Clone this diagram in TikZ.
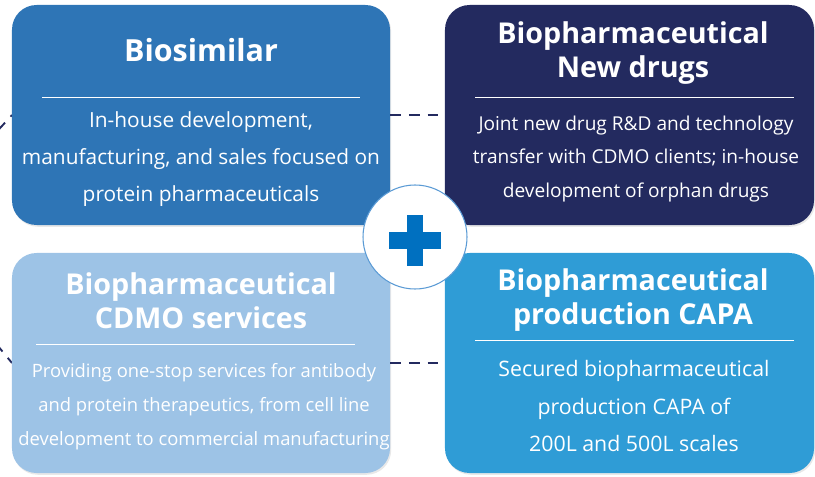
\documentclass[tikz,border=0pt]{standalone}
\usepackage{fontspec}
\setmainfont{Open Sans}
\usetikzlibrary{positioning}
\usetikzlibrary{shadows}
\definecolor{biosim}{HTML}{2E75B6}
\definecolor{newdrug}{HTML}{232A5F}
\definecolor{cdmo}{HTML}{9DC3E6}
\definecolor{capa}{HTML}{2F9CD6}
\definecolor{plusblue}{HTML}{0070C0}
\definecolor{ringblue}{HTML}{5B9BD5}

\begin{document}
\begin{tikzpicture}[x=0.03cm, y=-0.03cm,
    card/.style={rounded corners=21pt, minimum height=6.6cm,
        drop shadow={opacity=0.18, shadow xshift=1pt, shadow yshift=-1.5pt}},
    title/.style={text=white, align=center, font=\bfseries\fontsize{24.5}{29}\selectfont},
    body/.style={text=white, align=center, font=\fontsize{17.8}{31.5}\selectfont},
    divider/.style={white, line width=0.8pt},
    link/.style={newdrug, line width=1.6pt, dash pattern=on 9pt off 7pt}]

    % Canvas
    \useasboundingbox (0,0) rectangle (815,476);
    \clip (0,0) rectangle (815,476);

    % Dashed links running in from the left
    \coordinate (inA) at (-40,172);
    \coordinate (inB) at (-40,300);
    \draw[link] (inA) -- (12,115);
    \draw[link] (inB) -- (12,363);

    % Draw the four cards
    \foreach \n/\c/\x/\y/\w in {tl/biosim/201/115/11.34, tr/newdrug/629.5/115/11.07,
        bl/cdmo/201/363/11.34, br/capa/629.5/363/11.07} {
        \node[card, fill=\c, minimum width=\w cm] (\n) at (\x,\y) {};
    }

    % Dashed links between the cards
    \draw[link] (tl.east) -- (tr.west);
    \draw[link] (bl.east) -- (br.west);

    % Titles
    \node[title, font=\bfseries\fontsize{26}{29}\selectfont] (tlT) at (201,50) {Biosimilar};
    \node[title] (trT) at (633,53) {Biopharmaceutical\\New drugs};
    \node[title] (blT) at (201,301) {Biopharmaceutical\\CDMO services};
    \node[title] (brT) at (633,300) {Biopharmaceutical\\production CAPA};

    % Dividers
    \draw[divider] (42,97) -- (360,97);
    \draw[divider] (475,97) -- (794,97);
    \draw[divider] (36,344) -- (355,344);
    \draw[divider] (475,340) -- (794,340);

    % Descriptions
    \node[body] (tlB) at (201,159) {In-house development,\\manufacturing, and sales focused on\\protein pharmaceuticals};
    \node[body, font=\fontsize{16.3}{28.5}\selectfont] (trB) at (636,159) {Joint new drug R\&D and technology\\transfer with CDMO clients; in-house\\development of orphan drugs};
    \node[body, font=\fontsize{15.7}{29}\selectfont] (blB) at (204,407) {Providing one-stop services for antibody\\and protein therapeutics, from cell line\\development to commercial manufacturing};
    \node[body, font=\fontsize{18.2}{32}\selectfont] (brB) at (634,406) {Secured biopharmaceutical\\production CAPA of\\200L and 500L scales};

    % Center plus badge
    \node[circle, fill=white, draw=ringblue, line width=0.9pt, minimum size=3.12cm] (hub) at (415,237) {};
    \fill[plusblue] (389,232) rectangle (441,249);
    \fill[plusblue] (407,215) rectangle (423,266);
\end{tikzpicture}
\end{document}
